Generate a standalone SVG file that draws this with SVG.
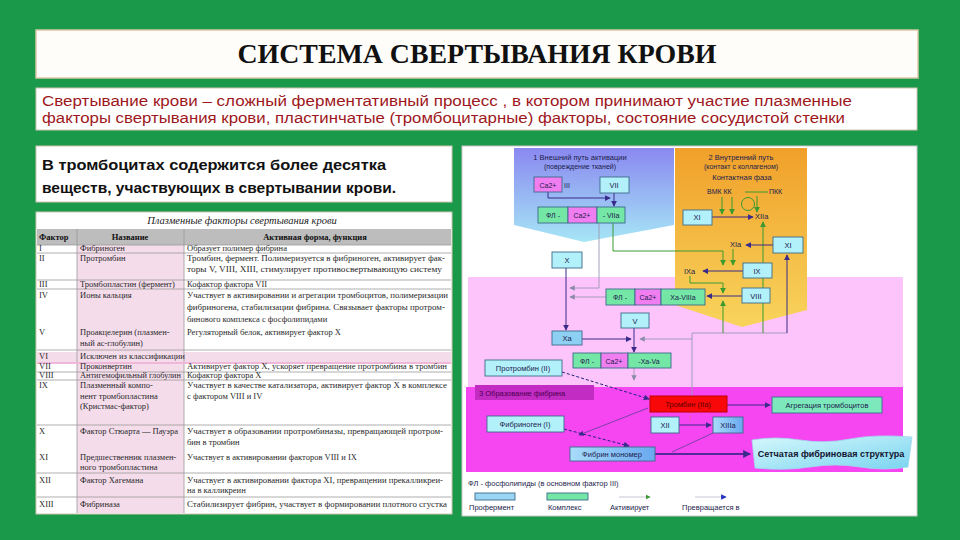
<svg xmlns="http://www.w3.org/2000/svg" width="960" height="540" viewBox="0 0 960 540">
<defs>
<style>
.box{fill:#ffffff;stroke:#cfc6b0;stroke-width:1}
.tt{font-family:"Liberation Serif",serif;font-size:8.5px;fill:#2a2a2a}
.th{font-family:"Liberation Serif",serif;font-size:8.5px;fill:#111;font-weight:bold}
.rl{stroke:#9a9a9a;stroke-width:0.8}
.pl{stroke:#f0b8d8;stroke-width:2}
.s{font-family:"Liberation Sans",Arial,sans-serif;font-size:7.5px;fill:#1c1c4c}
.sm{font-family:"Liberation Sans",Arial,sans-serif;font-size:7px;fill:#1c1c4c}
.pro{fill:#b2f0fa;stroke:#3c6a8c;stroke-width:0.9}
.cg{fill:#74e6a6;stroke:#3c6a8c;stroke-width:0.9}
.cp{fill:#f07ef0;stroke:#3c6a8c;stroke-width:0.9}
.ln{fill:none;stroke:#3a2a8a;stroke-width:1}
.lg{fill:none;stroke:#3a9a30;stroke-width:1}
.lgy{fill:none;stroke:#9a9ab4;stroke-width:0.9}
.ld{fill:none;stroke:#20207a;stroke-width:1;stroke-dasharray:3 2}
</style>
<marker id="an" viewBox="0 0 8 8" refX="7" refY="4" markerWidth="6" markerHeight="6" orient="auto"><path d="M0,0 L8,4 L0,8 Z" fill="#3a2a8a"/></marker>
<marker id="ag" viewBox="0 0 8 8" refX="7" refY="4" markerWidth="6" markerHeight="6" orient="auto"><path d="M0,0 L8,4 L0,8 Z" fill="#3a9a30"/></marker>
<marker id="ay" viewBox="0 0 8 8" refX="7" refY="4" markerWidth="6" markerHeight="6" orient="auto"><path d="M0,0 L8,4 L0,8 Z" fill="#8a8aa8"/></marker>
<marker id="ab" viewBox="0 0 8 8" refX="7" refY="4" markerWidth="7" markerHeight="7" orient="auto"><path d="M0,0 L8,4 L0,8 Z" fill="#2030c0"/></marker>
<linearGradient id="gBlue" x1="0" y1="0" x2="0" y2="1"><stop offset="0" stop-color="#8a88f0"/><stop offset="1" stop-color="#a6e6f6"/></linearGradient>
<linearGradient id="gOr" x1="0" y1="0" x2="0" y2="1"><stop offset="0" stop-color="#f0a02a"/><stop offset="1" stop-color="#f8d45c"/></linearGradient>
<linearGradient id="gFib" x1="0" y1="0" x2="1" y2="0"><stop offset="0" stop-color="#a8dcfa"/><stop offset="1" stop-color="#6aa8f0"/></linearGradient>
<linearGradient id="gNet" x1="0" y1="0" x2="1" y2="1"><stop offset="0" stop-color="#d6f8fc"/><stop offset="1" stop-color="#7ad4f0"/></linearGradient>
</defs>

<rect x="0" y="0" width="960" height="540" fill="#1a994b"/>

<g id="title">
<rect x="36" y="30" width="882" height="48" fill="#fffdf9" stroke="#d8c8a8" stroke-width="1.5"/>
<text x="477" y="63" text-anchor="middle" font-family="'Liberation Serif',serif" font-weight="bold" font-size="27" textLength="479" lengthAdjust="spacingAndGlyphs" fill="#111">СИСТЕМА СВЕРТЫВАНИЯ КРОВИ</text>
</g>

<g id="definition">
<rect x="36" y="88" width="881" height="42" class="box"/>
<text x="42" y="106" font-family="'Liberation Sans',Arial,sans-serif" font-size="14" fill="#9e171c" textLength="810" lengthAdjust="spacingAndGlyphs">Свертывание крови – сложный ферментативный процесс , в котором принимают участие плазменные</text>
<text x="42" y="123" font-family="'Liberation Sans',Arial,sans-serif" font-size="14" fill="#9e171c" textLength="803" lengthAdjust="spacingAndGlyphs">факторы свертывания крови, пластинчатые (тромбоцитарные) факторы, состояние сосудистой стенки</text>
</g>

<g id="platelets">
<rect x="36" y="146" width="416" height="56" class="box"/>
<text x="42" y="170" font-family="'Liberation Sans',Arial,sans-serif" font-size="15" font-weight="bold" fill="#111" textLength="344" lengthAdjust="spacingAndGlyphs">В тромбоцитах содержится более десятка</text>
<text x="42" y="193" font-family="'Liberation Sans',Arial,sans-serif" font-size="15" font-weight="bold" fill="#111" textLength="354" lengthAdjust="spacingAndGlyphs">веществ, участвующих в свертывании крови.</text>
</g>

<g id="table">
<rect x="36" y="212" width="416" height="302" fill="#ffffff" stroke="#cfc6b0"/>
<rect x="77" y="245" width="107" height="268" fill="#f5dcea"/>
<rect x="37" y="229" width="414" height="16" fill="#bdbdbd"/>
<rect x="37" y="352" width="414" height="10" fill="#f5dcea"/>
<text x="242" y="224" text-anchor="middle" font-family="'Liberation Serif',serif" font-style="italic" font-size="10.5" fill="#222">Плазменные факторы свертывания крови</text>
<text x="39" y="240" class="th">Фактор</text>
<text x="130" y="240" class="th" text-anchor="middle">Название</text>
<text x="315" y="240" class="th" text-anchor="middle">Активная форма, функция</text>
<line x1="77" y1="229" x2="77" y2="513" class="rl"/>
<line x1="184" y1="229" x2="184" y2="513" class="rl"/>
<line x1="37" y1="245" x2="451" y2="245" class="rl"/>
<line x1="37" y1="253" x2="451" y2="253" class="rl"/>
<line x1="37" y1="280" x2="451" y2="280" class="rl"/>
<line x1="37" y1="289" x2="451" y2="289" class="rl"/>
<line x1="37" y1="350" x2="451" y2="350" class="rl"/>
<line x1="37" y1="363" x2="451" y2="363" class="pl"/>
<line x1="37" y1="372" x2="451" y2="372" class="rl"/>
<line x1="37" y1="380" x2="451" y2="380" class="rl"/>
<line x1="37" y1="425" x2="451" y2="425" class="rl"/>
<line x1="37" y1="473" x2="451" y2="473" class="rl"/>
<line x1="37" y1="497" x2="451" y2="497" class="rl"/>

<text x="39" y="251" class="tt">I</text><text x="80" y="251" class="tt">Фибриноген</text><text x="187" y="251" class="tt">Образует полимер фибрина</text>
<text x="39" y="261" class="tt">II</text><text x="80" y="261" class="tt">Протромбин</text>
<text x="187" y="261" class="tt" textLength="258" lengthAdjust="spacingAndGlyphs">Тромбин, фермент. Полимеризуется в фибриноген, активирует фак-</text>
<text x="187" y="272" class="tt" textLength="255" lengthAdjust="spacingAndGlyphs">торы V, VIII, XIII, стимулирует противосвертывающую систему</text>
<text x="39" y="287" class="tt">III</text><text x="80" y="287" class="tt">Тромбопластин (фермент)</text><text x="187" y="287" class="tt">Кофактор фактора VII</text>
<text x="39" y="298" class="tt">IV</text><text x="80" y="298" class="tt">Ионы кальция</text>
<text x="187" y="298" class="tt" textLength="261" lengthAdjust="spacingAndGlyphs">Участвует в активировании и агрегации тромбоцитов, полимеризации</text>
<text x="187" y="310" class="tt" textLength="258" lengthAdjust="spacingAndGlyphs">фибриногена, стабилизации фибрина. Связывает факторы протром-</text>
<text x="187" y="322" class="tt">бинового комплекса с фосфолипидами</text>
<text x="39" y="335" class="tt">V</text><text x="80" y="335" class="tt">Проакцелерин (плазмен-</text><text x="80" y="346" class="tt">ный ас-глобулин)</text>
<text x="187" y="335" class="tt">Регуляторный белок, активирует фактор X</text>
<text x="39" y="359" class="tt">VI</text><text x="80" y="359" class="tt">Исключен из классификации</text>
<text x="39" y="369" class="tt">VII</text><text x="80" y="369" class="tt">Проконвертин</text>
<text x="187" y="369" class="tt" textLength="260" lengthAdjust="spacingAndGlyphs">Активирует фактор X, ускоряет превращение протромбина в тромбин</text>
<text x="39" y="378" class="tt">VIII</text><text x="80" y="378" class="tt" textLength="101" lengthAdjust="spacingAndGlyphs">Антигемофильный глобулин</text><text x="187" y="378" class="tt">Кофактор фактора X</text>
<text x="39" y="388" class="tt">IX</text><text x="80" y="388" class="tt">Плазменный компо-</text><text x="80" y="399" class="tt">нент тромбопластина</text><text x="80" y="409" class="tt">(Кристмас-фактор)</text>
<text x="187" y="388" class="tt" textLength="260" lengthAdjust="spacingAndGlyphs">Участвует в качестве катализатора, активирует фактор X в комплексе</text>
<text x="187" y="399" class="tt">с фактором VIII и IV</text>
<text x="39" y="434" class="tt">X</text><text x="80" y="434" class="tt">Фактор Стюарта — Пауэра</text>
<text x="187" y="434" class="tt" textLength="256" lengthAdjust="spacingAndGlyphs">Участвует в образовании протромбиназы, превращающей протром-</text>
<text x="187" y="445" class="tt">бин в тромбин</text>
<text x="39" y="460" class="tt">XI</text><text x="80" y="460" class="tt">Предшественник плазмен-</text><text x="80" y="470" class="tt">ного тромбопластина</text>
<text x="187" y="460" class="tt">Участвует в активировании факторов VIII и IX</text>
<text x="39" y="483" class="tt">XII</text><text x="80" y="483" class="tt">Фактор Хагемана</text>
<text x="187" y="483" class="tt" textLength="256" lengthAdjust="spacingAndGlyphs">Участвует в активировании фактора XI, превращении прекалликреи-</text>
<text x="187" y="493" class="tt">на в калликреин</text>
<text x="39" y="507" class="tt">XIII</text><text x="80" y="507" class="tt">Фибриназа</text>
<text x="187" y="507" class="tt" textLength="260" lengthAdjust="spacingAndGlyphs">Стабилизирует фибрин, участвует в формировании плотного сгустка</text>
</g>

<g id="scheme-bg">
<rect x="462" y="146" width="455" height="370" fill="#ffffff" stroke="#c8c8c8"/>
<rect x="468" y="277" width="435" height="111" fill="#fcc4fa"/>
<rect x="466" y="387" width="437" height="85" fill="#f646f2"/>
<polygon points="514,148 674,148 674,225 584,242 514,225" fill="url(#gBlue)"/>
<polygon points="675,148 807,148 807,310 742,327 675,305" fill="url(#gOr)"/>
<rect x="475" y="385" width="119" height="15" fill="#c22cc2"/>
<text x="479" y="396" class="s" style="fill:#4a0050">3 Образование фибрина</text>
<text x="580" y="160" class="s" text-anchor="middle">1 Внешний путь активации</text>
<text x="580" y="169" class="sm" text-anchor="middle">(повреждение тканей)</text>
<text x="741" y="160" class="s" text-anchor="middle">2 Внутренний путь</text>
<text x="741" y="169" class="sm" text-anchor="middle">(контакт с коллагеном)</text>
<text x="742" y="180" class="s" text-anchor="middle">Контактная фаза</text>
<text x="707" y="194" class="sm">ВМК КК</text>
<text x="769" y="194" class="sm">ПКК</text>
<text x="564" y="188" class="sm">III</text>
<text x="755" y="219" class="s">XIIa</text>
<text x="730" y="247" class="s">XIa</text>
<text x="684" y="274" class="s">IXa</text>
</g>

<g id="connectors">
<polyline points="548,192 548,198 610,198" class="ln" marker-end="url(#an)"/>
<line x1="614" y1="193" x2="614" y2="206" class="ln" marker-end="url(#an)"/>
<polyline points="599,223 599,288 570,288" class="lgy" marker-end="url(#ay)"/>
<line x1="606" y1="297" x2="570" y2="297" class="lgy" marker-end="url(#ay)"/>
<polyline points="613,223 613,251 723,251 723,265" class="lg" marker-end="url(#ag)"/>
<line x1="733" y1="249" x2="733" y2="265" class="lg" marker-end="url(#ag)"/>
<line x1="743" y1="271" x2="703" y2="271" class="ln" marker-end="url(#an)"/>
<polyline points="690,276 690,283 723,283 723,293" class="lg" marker-end="url(#ag)"/>
<line x1="742" y1="296" x2="707" y2="296" class="ln" marker-end="url(#an)"/>
<line x1="566" y1="268" x2="566" y2="330" class="ln" marker-end="url(#an)"/>
<line x1="582" y1="339" x2="631" y2="339" class="ln" marker-end="url(#an)"/>
<line x1="634" y1="328" x2="634" y2="352" class="ln" marker-end="url(#an)"/>
<line x1="634" y1="368" x2="634" y2="380" class="lgy" marker-end="url(#ay)"/>
<polyline points="692,396 692,333 787,333" class="lgy"/>
<line x1="692" y1="339" x2="640" y2="339" class="lgy" marker-end="url(#ay)"/>
<line x1="723" y1="333" x2="723" y2="301" class="lg" marker-end="url(#ag)"/>
<line x1="763" y1="333" x2="763" y2="222" class="lg" marker-end="url(#ag)"/>
<line x1="787" y1="333" x2="787" y2="255" class="ln" marker-end="url(#an)"/>
<line x1="712" y1="217" x2="753" y2="217" class="ln" marker-end="url(#an)"/>
<line x1="773" y1="245" x2="746" y2="245" class="ln" marker-end="url(#an)"/>
<line x1="745" y1="192" x2="768" y2="192" class="lg"/>
<line x1="722" y1="197" x2="722" y2="214" class="lg" marker-end="url(#ag)"/>
<line x1="732" y1="197" x2="732" y2="214" class="lg" marker-end="url(#ag)"/>
<line x1="757" y1="196" x2="757" y2="212" class="lg" marker-end="url(#ag)"/>
<circle cx="748" cy="204" r="6.5" class="lg"/>
<line x1="562" y1="372" x2="649" y2="399" class="ld" marker-end="url(#an)"/>
<line x1="727" y1="405" x2="770" y2="405" class="ln" marker-end="url(#an)"/>
<line x1="690" y1="412" x2="690" y2="421" stroke="#e06080" stroke-width="1" stroke-dasharray="2 2"/>
<line x1="679" y1="425" x2="711" y2="425" class="ln" marker-end="url(#an)"/>
<line x1="648" y1="408" x2="579" y2="435" stroke="#7040a0" stroke-width="0.9" marker-end="url(#an)"/>
<line x1="564" y1="429" x2="629" y2="446" class="ld" marker-end="url(#an)"/>
<line x1="713" y1="433" x2="672" y2="452" stroke="#7040a0" stroke-width="0.9"/>
<line x1="655" y1="454" x2="750" y2="454" stroke="#20207a" stroke-width="1.3" marker-end="url(#an)"/>
</g>

<g id="n-ca3"><rect x="534" y="177" width="28" height="15" class="cp"/><text x="548" y="188" class="sm" text-anchor="middle">Ca2+</text></g>
<g id="n-vii"><rect x="600" y="177" width="29" height="16" class="pro"/><text x="614" y="188" class="s" text-anchor="middle">VII</text></g>
<g id="n-viia">
<rect x="538" y="207" width="30" height="16" class="cg"/><rect x="568" y="207" width="29" height="16" class="cp"/><rect x="597" y="207" width="28" height="16" class="cg"/>
<text x="553" y="218" class="sm" text-anchor="middle">ФЛ -</text><text x="582" y="218" class="sm" text-anchor="middle">Ca2+</text><text x="611" y="218" class="sm" text-anchor="middle">- VIIa</text>
</g>
<g id="n-x"><rect x="552" y="252" width="30" height="16" class="pro"/><text x="567" y="263" class="s" text-anchor="middle">X</text></g>
<g id="n-xi1"><rect x="683" y="210" width="29" height="15" class="pro"/><text x="697" y="220" class="s" text-anchor="middle">XI</text></g>
<g id="n-xi2"><rect x="773" y="237" width="30" height="16" class="pro"/><text x="788" y="248" class="s" text-anchor="middle">XI</text></g>
<g id="n-ix"><rect x="743" y="263" width="29" height="15" class="pro"/><text x="757" y="274" class="s" text-anchor="middle">IX</text></g>
<g id="n-viii"><rect x="742" y="288" width="28" height="15" class="pro"/><text x="756" y="299" class="s" text-anchor="middle">VIII</text></g>
<g id="n-xaviiia">
<rect x="606" y="289" width="29" height="16" class="cg"/><rect x="635" y="289" width="26" height="16" class="cp"/><rect x="661" y="289" width="44" height="16" class="cg"/>
<text x="620" y="300" class="sm" text-anchor="middle">ФЛ -</text><text x="648" y="300" class="sm" text-anchor="middle">Ca2+</text><text x="683" y="300" class="sm" text-anchor="middle">Xa-VIIIa</text>
</g>
<g id="n-v"><rect x="621" y="313" width="28" height="15" class="pro"/><text x="635" y="324" class="s" text-anchor="middle">V</text></g>
<g id="n-xa"><rect x="552" y="331" width="30" height="14" class="pro" style="fill:#8ed0f4"/><text x="567" y="341" class="s" text-anchor="middle">Xa</text></g>
<g id="n-xava">
<rect x="573" y="353" width="28" height="15" class="cg"/><rect x="601" y="353" width="27" height="15" class="cp"/><rect x="628" y="353" width="43" height="15" class="cg"/>
<text x="587" y="364" class="sm" text-anchor="middle">ФЛ -</text><text x="614" y="364" class="sm" text-anchor="middle">Ca2+</text><text x="649" y="364" class="sm" text-anchor="middle">-Xa-Va</text>
</g>
<g id="n-prothrombin"><rect x="485" y="360" width="77" height="16" class="pro"/><text x="523" y="371" class="s" text-anchor="middle">Протромбин (II)</text></g>
<g id="n-thrombin"><rect x="650" y="396" width="77" height="16" fill="#f80808" stroke="#c00000"/><text x="688" y="407" class="s" text-anchor="middle" style="fill:#5a0000">Тромбин (IIa)</text></g>
<g id="n-aggreg"><rect x="772" y="397" width="110" height="16" fill="#7ce8bc" stroke="#3c6a8c" stroke-width="0.9"/><text x="827" y="408" class="s" text-anchor="middle">Агрегация тромбоцитов</text></g>
<g id="n-xii"><rect x="651" y="417" width="28" height="16" class="pro"/><text x="665" y="428" class="s" text-anchor="middle">XII</text></g>
<g id="n-xiiia"><rect x="713" y="417" width="30" height="16" fill="url(#gFib)" stroke="#3c6a8c" stroke-width="0.9"/><text x="728" y="428" class="s" text-anchor="middle">XIIIa</text></g>
<g id="n-fibrinogen"><rect x="487" y="416" width="77" height="16" class="pro"/><text x="525" y="427" class="s" text-anchor="middle">Фибриноген (I)</text></g>
<g id="n-fibrin"><rect x="570" y="447" width="85" height="14" fill="url(#gFib)" stroke="#3c6a8c" stroke-width="0.9"/><text x="612" y="457" class="s" text-anchor="middle">Фибрин мономер</text></g>
<g id="n-net">
<path d="M752,440 Q775,436 800,440 T850,439 T912,437 L908,467 Q885,471 860,467 T810,467 T755,468 Z" fill="url(#gNet)" stroke="#a0d8ec" stroke-width="0.8"/>
<text x="831" y="457" font-family="'Liberation Sans',Arial,sans-serif" font-size="9" font-weight="bold" fill="#141430" text-anchor="middle">Сетчатая фибриновая структура</text>
</g>

<g id="legend">
<text x="468" y="486" class="s">ФЛ - фосфолипиды (в основном фактор III)</text>
<rect x="475" y="493" width="40" height="7" class="pro" style="fill:#9ad6f4"/>
<text x="469" y="510" class="s">Профермент</text>
<rect x="547" y="493" width="41" height="7" class="cg"/>
<text x="548" y="510" class="s">Комплекс</text>
<line x1="619" y1="497" x2="650" y2="497" stroke="#b8b8c8" stroke-width="0.8" marker-end="url(#ag)"/>
<text x="610" y="510" class="s">Активирует</text>
<line x1="695" y1="497" x2="726" y2="497" stroke="#b8b8c8" stroke-width="0.8" marker-end="url(#ab)"/>
<text x="682" y="510" class="s">Превращается в</text>
</g>
</svg>
